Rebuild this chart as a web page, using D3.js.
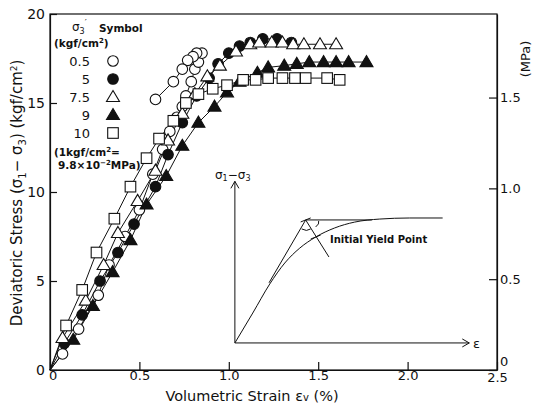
<!DOCTYPE html>
<html><head><meta charset="utf-8">
<script src="https://cdn.jsdelivr.net/npm/d3@7"></script>
<style>
body{margin:0;background:#fff;}
svg{display:block;font-family:"DejaVu Sans",sans-serif;}
</style></head>
<body><svg id="c" width="539" height="407"></svg>
<script>
// ---- data ----
const xTicks = [0, 0.5, 1.0, 1.5, 2.0, 2.5];
const xTickLabels = ["0", "0.5", "1.0", "1.5", "2.0", "2.5"];
const yTicks = [0, 5, 10, 15, 20];
const mpaTicks = [0, 0.5, 1.0, 1.5];
const mpaTickLabels = ["0", "0.5", "1.0", "1.5"];
const legendLabels = ["0.5", "5", "7.5", "9", "10"];
const symbols = ["circleOpen", "circleFilled", "triOpen", "triFilled", "squareOpen"];

const s05x = [0, 0.07, 0.16, 0.27, 0.33, 0.42, 0.50, 0.575, 0.63, 0.67, 0.71, 0.74, 0.76, 0.79, 0.81, 0.83, 0.85, 0.82, 0.80, 0.77, 0.74, 0.69, 0.59];
const s05y = [0, 0.9, 2.3, 4.2, 5.9, 7.5, 9.0, 11.0, 12.4, 13.4, 14.2, 14.8, 15.4, 16.2, 16.9, 17.3, 17.8, 17.8, 17.6, 17.4, 16.9, 16.2, 15.2];

const s5x = [0, 0.08, 0.18, 0.28, 0.38, 0.47, 0.59, 0.66, 0.74, 0.82, 0.89, 0.94, 1.00, 1.06, 1.12, 1.19, 1.27, 1.35];
const s5y = [0, 1.5, 3.1, 5.0, 6.6, 8.2, 10.3, 12.1, 13.9, 15.4, 16.4, 17.2, 17.8, 18.2, 18.4, 18.6, 18.6, 18.4];

const s75x = [0, 0.07, 0.20, 0.30, 0.38, 0.49, 0.59, 0.66, 0.74, 0.81, 0.88, 0.95, 1.04, 1.12, 1.17, 1.24, 1.30, 1.36, 1.42, 1.51, 1.60];
const s75y = [0, 1.8, 3.9, 5.9, 7.7, 9.5, 11.2, 12.9, 14.4, 15.5, 16.5, 17.1, 17.9, 18.3, 18.4, 18.4, 18.4, 18.3, 18.3, 18.3, 18.3];

const s9x = [0, 0.13, 0.24, 0.35, 0.45, 0.54, 0.65, 0.74, 0.83, 0.92, 0.99, 1.06, 1.16, 1.22, 1.31, 1.38, 1.45, 1.53, 1.60, 1.67, 1.77];
const s9y = [0, 1.7, 3.6, 5.5, 7.3, 9.3, 10.9, 12.6, 13.9, 14.8, 15.6, 16.2, 16.7, 17.0, 17.1, 17.2, 17.3, 17.3, 17.3, 17.3, 17.3];

const s10x = [0, 0.09, 0.18, 0.26, 0.36, 0.45, 0.54, 0.61, 0.69, 0.76, 0.83, 0.91, 0.99, 1.08, 1.15, 1.22, 1.30, 1.37, 1.43, 1.55, 1.62];
const s10y = [0, 2.5, 4.5, 6.6, 8.5, 10.3, 11.9, 13.0, 14.0, 15.0, 15.5, 15.8, 16.0, 16.3, 16.3, 16.4, 16.4, 16.4, 16.4, 16.4, 16.3];

// schematic inset (in chart units)
const insetCurveX = [1.034, 1.134, 1.229, 1.313, 1.397, 1.486, 1.592, 1.704, 1.844, 2.011, 2.196];
const insetCurveY = [1.52, 3.20, 4.83, 6.01, 6.85, 7.47, 7.98, 8.31, 8.48, 8.54, 8.54];

// ---- layout ----
const svg = d3.select("#c");
const x = d3.scaleLinear().domain([0, 2.5]).range([50, 497]);
const y = d3.scaleLinear().domain([0, 20]).range([370, 14]);
const yM = d3.scaleLinear().domain([0, 20 * 0.098]).range([370, 14]);

const series = [
  {xs: s05x, ys: s05y, sym: symbols[0]},
  {xs: s5x, ys: s5y, sym: symbols[1]},
  {xs: s75x, ys: s75y, sym: symbols[2]},
  {xs: s9x, ys: s9y, sym: symbols[3]},
  {xs: s10x, ys: s10y, sym: symbols[4]}
];

// frame
svg.append("rect").attr("x", x(0)).attr("y", y(20)).attr("width", x(2.5) - x(0)).attr("height", y(0) - y(20))
  .attr("fill", "none").attr("stroke", "#111").attr("stroke-width", 1.2);

// axes
const fs = "13px";
const gx = svg.append("g").attr("transform", `translate(0,${y(0)})`)
  .call(d3.axisBottom(x).tickValues(xTicks).tickFormat((d, i) => xTickLabels[i]).tickSizeInner(-8).tickSizeOuter(0).tickPadding(1));
const gy = svg.append("g").attr("transform", `translate(${x(0)},0)`)
  .call(d3.axisLeft(y).tickValues(yTicks).tickFormat(d3.format("d")).tickSizeInner(-7).tickSizeOuter(0).tickPadding(5));
const gr = svg.append("g").attr("transform", `translate(${x(2.5)},0)`)
  .call(d3.axisRight(yM).tickValues(mpaTicks).tickFormat((d, i) => mpaTickLabels[i]).tickSizeInner(-8).tickSizeOuter(0).tickPadding(3));
[gx, gy, gr].forEach(g => {
  g.select(".domain").attr("stroke", "#111").attr("stroke-width", 1.2);
  g.selectAll(".tick line").attr("stroke", "#111").attr("stroke-width", 1.2);
  g.selectAll(".tick text").attr("font-size", fs).attr("fill", "#111").attr("font-family", "DejaVu Sans, sans-serif");
});
gy.selectAll(".tick text").attr("font-size", "14px");
gx.selectAll(".tick text").filter(d => d === 0).attr("dx", "0.2em");
gx.selectAll(".tick text").filter(d => d === 2.5).attr("dy", "0.85em");
gr.selectAll(".tick text").filter(d => d === 0).attr("dy", "-0.35em");

// axis titles
const xt = svg.append("text").attr("x", 252).attr("y", 401).attr("text-anchor", "middle")
  .attr("font-size", "14.5px").attr("fill", "#111");
xt.append("tspan").text("Volumetric Strain  ε");
xt.append("tspan").attr("font-size", "10px").text("v");
xt.append("tspan").text("  (%)");

const yt = svg.append("text").attr("transform", "translate(22,193) rotate(-90)").attr("text-anchor", "middle")
  .attr("font-size", "15px").attr("fill", "#111");
yt.append("tspan").text("Deviatoric Stress  (σ");
yt.append("tspan").attr("font-size", "10px").attr("dy", 4).text("1");
yt.append("tspan").attr("dy", -4).text("− σ");
yt.append("tspan").attr("font-size", "10px").attr("dy", 4).text("3");
yt.append("tspan").attr("dy", -4).text(")  (kgf/cm");
yt.append("tspan").attr("font-size", "9px").attr("dy", -5).text("2");
yt.append("tspan").attr("dy", 5).text(")");

svg.append("text").attr("transform", "translate(530,59) rotate(-90)").attr("text-anchor", "middle")
  .attr("font-size", "13px").attr("fill", "#111").text("(MPa)");

// markers
function drawMarker(g, sym, cx, cy) {
  if (sym === "circleOpen" || sym === "circleFilled") {
    g.append("circle").attr("cx", cx).attr("cy", cy).attr("r", 5.3)
      .attr("fill", sym === "circleFilled" ? "#111" : "#fff").attr("stroke", "#111").attr("stroke-width", 1.1);
  } else if (sym === "triOpen" || sym === "triFilled") {
    const h = 6.5;
    g.append("path").attr("d", `M${cx},${cy - h}L${cx + h},${cy + h * 0.7}L${cx - h},${cy + h * 0.7}Z`)
      .attr("fill", sym === "triFilled" ? "#111" : "#fff").attr("stroke", "#111").attr("stroke-width", 1.1);
  } else {
    g.append("rect").attr("x", cx - 5.3).attr("y", cy - 5.3).attr("width", 10.6).attr("height", 10.6)
      .attr("fill", "#fff").attr("stroke", "#111").attr("stroke-width", 1.1);
  }
}

const line = d3.line().x(d => x(d[0])).y(d => y(d[1]));
series.forEach(s => {
  const pts = s.xs.map((v, i) => [v, s.ys[i]]);
  svg.append("path").attr("d", line(pts)).attr("fill", "none").attr("stroke", "#111").attr("stroke-width", 1);
});
series.forEach(s => {
  const g = svg.append("g");
  s.xs.forEach((v, i) => { if (i > 0) drawMarker(g, s.sym, x(v), y(s.ys[i])); });
});

// legend
const lg = svg.append("g").attr("fill", "#111");
const h1 = lg.append("text").attr("x", 72).attr("y", 31).attr("font-size", "12px");
h1.append("tspan").text("σ");
h1.append("tspan").attr("font-size", "8px").attr("dy", 3).text("3");
h1.append("tspan").attr("font-size", "9px").attr("dy", -8).text("′");
lg.append("text").attr("x", 99).attr("y", 32).attr("font-size", "10.5px").attr("font-weight", "bold").text("Symbol");
const h2 = lg.append("text").attr("x", 54).attr("y", 47).attr("font-size", "10.5px").attr("font-weight", "bold");
h2.append("tspan").text("(kgf/cm");
h2.append("tspan").attr("font-size", "7px").attr("dy", -4).text("2");
h2.append("tspan").attr("dy", 4).text(")");
legendLabels.forEach((l, i) => {
  const ly = 61 + i * 18;
  lg.append("text").attr("x", 90).attr("y", ly + 5).attr("text-anchor", "end").attr("font-size", "13px").text(l);
  drawMarker(lg, symbols[i], 113, ly);
});
const n1 = lg.append("text").attr("x", 54).attr("y", 156).attr("font-size", "10.5px").attr("font-weight", "bold");
n1.append("tspan").text("(1kgf/cm");
n1.append("tspan").attr("font-size", "7px").attr("dy", -4).text("2");
n1.append("tspan").attr("dy", 4).text("=");
const n2 = lg.append("text").attr("x", 58).attr("y", 169).attr("font-size", "10.5px").attr("font-weight", "bold");
n2.append("tspan").text("9.8×10");
n2.append("tspan").attr("font-size", "7px").attr("dy", -4).text("−2");
n2.append("tspan").attr("dy", 4).text("MPa)");

// inset schematic
const ins = svg.append("g").attr("stroke", "#111").attr("fill", "none").attr("stroke-width", 1);
const ox = insetCurveX[0], oy = insetCurveY[0];
ins.append("line").attr("x1", x(ox)).attr("y1", y(oy)).attr("x2", x(ox)).attr("y2", y(10.6));
ins.append("path").attr("d", `M${x(ox) - 4},${y(10.6) + 7}L${x(ox)},${y(10.6)}L${x(ox) + 4},${y(10.6) + 7}`);
ins.append("line").attr("x1", x(ox)).attr("y1", y(oy)).attr("x2", x(2.345)).attr("y2", y(oy));
ins.append("path").attr("d", `M${x(2.345) - 7},${y(oy) - 4}L${x(2.345)},${y(oy)}L${x(2.345) - 7},${y(oy) + 4}`);
const ipts = insetCurveX.map((v, i) => [v, insetCurveY[i]]);
ins.append("path").attr("d", d3.line().x(d => x(d[0])).y(d => y(d[1])).curve(d3.curveMonotoneX)(ipts));
// tangent & horizontal line
const ix = 1.43, iy = 8.43;
ins.append("line").attr("x1", x(1.225)).attr("y1", y(4.9)).attr("x2", x(ix)).attr("y2", y(iy));
ins.append("line").attr("x1", x(ix)).attr("y1", y(iy)).attr("x2", x(1.80)).attr("y2", y(iy));
// bisector through yield point
ins.append("line").attr("x1", x(ix)).attr("y1", y(iy)).attr("x2", x(1.56)).attr("y2", y(6.35));
// crosses
ins.append("path").attr("d", `M${x(ix) - 5},${y(iy) + 2}L${x(ix) + 5},${y(iy) - 2}`);
ins.append("path").attr("d", `M${x(1.486) - 5},${y(7.47) + 2}L${x(1.486) + 5},${y(7.47) - 2}`);
// angle marks
ins.append("path").attr("d", `M${x(ix) - 4},${y(iy) + 9}Q${x(ix) + 1},${y(iy) + 12} ${x(ix) + 5},${y(iy) + 9}`);
ins.append("path").attr("d", `M${x(ix) + 10},${y(iy) + 7}Q${x(ix) + 14},${y(iy) + 4} ${x(ix) + 13},${y(iy) + 1}`);
svg.append("text").attr("x", 330).attr("y", 243).attr("font-size", "10px").attr("font-weight", "bold").attr("fill", "#111").text("Initial Yield Point");
const st = svg.append("text").attr("x", 215).attr("y", 179).attr("font-size", "12px").attr("fill", "#111");
st.append("tspan").text("σ");
st.append("tspan").attr("font-size", "8px").attr("dy", 2).text("1");
st.append("tspan").attr("dy", -2).text("−σ");
st.append("tspan").attr("font-size", "8px").attr("dy", 2).text("3");
svg.append("text").attr("x", 473).attr("y", 348).attr("font-size", "13px").attr("fill", "#111").text("ε");
</script></body></html>
